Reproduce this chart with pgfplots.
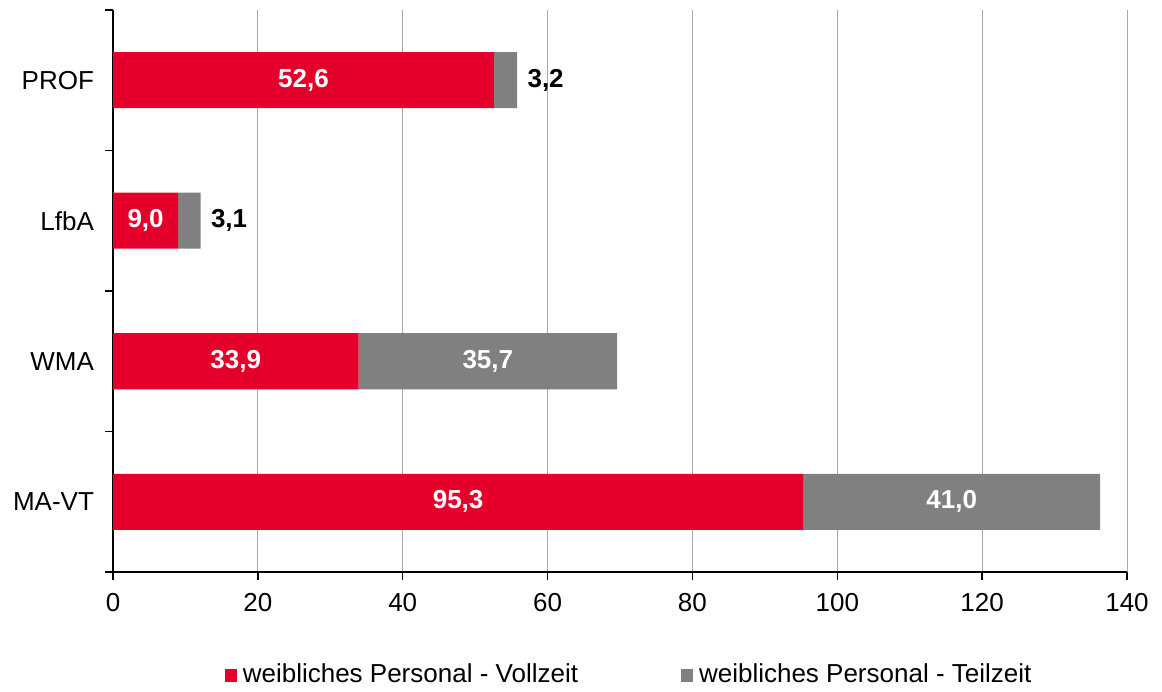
\documentclass[border=0pt]{standalone}
\usepackage{pgfplots}
\pgfplotsset{compat=1.18}
\usepackage{fontspec}
\setmainfont{Liberation Sans}
\definecolor{vzred}{RGB}{228,0,43}
\definecolor{tzgray}{RGB}{128,128,128}
\definecolor{gridgray}{RGB}{170,170,170}
\newcommand{\fs}{\fontsize{13}{15.6}\selectfont}
\tikzset{lblw/.style={font=\fs\bfseries, text=white},
         lblo/.style={font=\fs\bfseries, anchor=west, inner sep=0pt, xshift=5pt}}
\begin{document}
\fs
\begin{tikzpicture}
\begin{axis}[
  name=ax,
  scale only axis, width=507pt, height=281pt,
  xbar stacked, bar width=28pt,
  xmin=0, xmax=140, ymin=-0.5, ymax=3.5,
  xtick={0,20,...,140},
  ytick={-0.5,0.5,1.5,2.5,3.5}, yticklabels={},
  extra y ticks={0,1,2,3},
  extra y tick labels={MA-VT,WMA,LfbA,PROF},
  extra y tick style={major tick length=0pt, yticklabel style={xshift=-5pt}},
  tick align=outside, tick pos=left,
  major tick length=3.8pt,
  tick style={black, line width=0.65pt},
  axis lines*=left,
  axis line style={-, black, line width=0.65pt},
  xmajorgrids, grid style={gridgray, line width=0.5pt},
  /pgf/number format/assume math mode=true,
  ticklabel style={font=\fs},
  xticklabel style={yshift=-2.5pt},
  legend style={at={(0.510,-0.1833)}, anchor=center, draw=none,
    font=\fs,
    /tikz/every even column/.append style={column sep=49.5pt}},
  legend columns=2,
  legend image code/.code={\fill[#1] (0pt,-3.25pt) rectangle (6pt,3.25pt); \path (7pt,0pt);},
]
\addplot[fill=vzred, draw=none] coordinates {(95.3,0) (33.9,1) (9.0,2) (52.6,3)};
\addlegendentry{weibliches Personal - Vollzeit}
\addplot[fill=tzgray, draw=none] coordinates {(41.0,0) (35.7,1) (3.1,2) (3.2,3)};
\addlegendentry{weibliches Personal - Teilzeit}
\coordinate (a1) at (axis cs:47.65,0);
\coordinate (a2) at (axis cs:115.8,0);
\coordinate (a3) at (axis cs:16.95,1);
\coordinate (a4) at (axis cs:51.75,1);
\coordinate (a5) at (axis cs:4.5,2);
\coordinate (a6) at (axis cs:26.3,3);
\coordinate (a7) at (axis cs:12.1,2);
\coordinate (a8) at (axis cs:55.8,3);
\end{axis}
\node[lblw] at (a1) {95,3};
\node[lblw] at (a2) {41,0};
\node[lblw] at (a3) {33,9};
\node[lblw] at (a4) {35,7};
\node[lblw] at (a5) {9,0};
\node[lblw] at (a6) {52,6};
\node[lblo] at (a7) {3,1};
\node[lblo] at (a8) {3,2};
\pgfresetboundingbox
\path[use as bounding box] ([shift={(-56.5pt,-59.5pt)}]ax.south west) rectangle ([shift={(17.5pt,5pt)}]ax.north east);
\end{tikzpicture}
\end{document}
